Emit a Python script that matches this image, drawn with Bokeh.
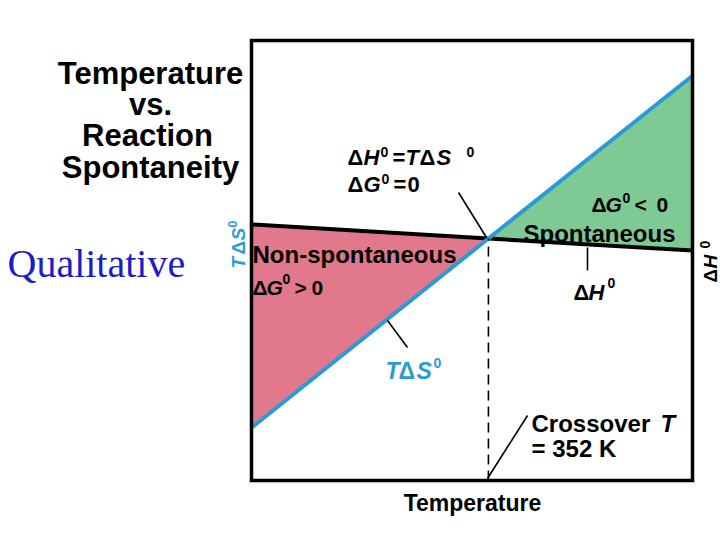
import math
from bokeh.plotting import figure
from bokeh.models import Range1d, Label
from bokeh.embed import file_html
from bokeh.resources import INLINE

# ---------------- data (schematic) ----------------
temperature = [150, 352, 526]      # K  (left edge, crossover, right edge)
delta_h = [58.2, 55.0, 52.3]       # ΔH0
t_delta_s = [12.0, 55.0, 92.0]     # TΔS0
crossover_T = 352
temp_range = [150, 526]
energy_range = [0, 100]

RED = "#E2788B"
GREEN = "#7FC995"
BLUE = "#2B9BD8"
FONT = "Liberation Sans"

# ---------------- layout helpers (page pixels -> data) ----------------
W, H = 720, 540
OX, OY = 0, 0
BL, BR, BT, BB = 251, 692, 40, 480
sx = (temp_range[1] - temp_range[0]) / (BR - BL)
sy = (energy_range[1] - energy_range[0]) / (BB - BT)


def X(px):
    return temp_range[0] + (px - BL) * sx


def Y(py):
    return energy_range[0] + (BB - py) * sy


p = figure(width=W, height=H, output_backend="svg", toolbar_location=None,
           x_range=Range1d(X(OX), X(OX + W)), y_range=Range1d(Y(OY + H), Y(OY)),
           x_axis_location=None, y_axis_location=None, min_border=0)
p.outline_line_color = None
p.grid.visible = False
p.background_fill_color = "white"
p.border_fill_color = "white"

# fills
p.varea(x=temperature[:2], y1=t_delta_s[:2], y2=delta_h[:2], fill_color=RED)
p.varea(x=temperature[1:], y1=delta_h[1:], y2=t_delta_s[1:], fill_color=GREEN)

# lines
p.line(temperature, delta_h, line_color="black", line_width=4)
p.line(temperature, t_delta_s, line_color=BLUE, line_width=4)
p.line([crossover_T, crossover_T], [energy_range[0], delta_h[1]],
       line_color="black", line_width=1.6, line_dash="10 6")

# frame box
p.quad(left=[temp_range[0]], right=[temp_range[1]], bottom=[energy_range[0]],
       top=[energy_range[1]], fill_color=None, line_color="black", line_width=3.5,
       line_join="miter")

# leader lines
for (x0, y0, x1, y1) in [(458, 192, 486, 237), (387, 320, 407, 347),
                         (587, 247, 587, 270), (487, 478, 527, 415)]:
    p.line([X(x0), X(x1)], [Y(y0), Y(y1)], line_color="black", line_width=1.6)


def lab(text, px, py, size, color="black", style="bold", font=FONT,
        align="left", angle=0.0):
    p.add_layout(Label(x=X(px), y=Y(py), text=text, text_font=font,
                       text_font_size=f"{size}px", text_font_style=style,
                       text_color=color, text_align=align,
                       text_baseline="alphabetic", angle=angle))


# title
for t, cx, by in [("Temperature", 150, 73), ("vs.", 150, 104),
                  ("Reaction", 147, 135), ("Spontaneity", 150, 167)]:
    lab(t, cx, by, 31, align="center")

lab("Qualitative", 7, 263, 40, color="#1C1CC8", style="normal",
    font="Liberation Serif")

# ΔH0 = TΔS0 / ΔG0 = 0
for t, x, st in [("Δ", 347, "bold"), ("H", 363, "bold italic"), ("=", 392, "bold"),
                 ("T", 405, "bold italic"), ("Δ", 419, "bold"), ("S", 436, "bold italic")]:
    lab(t, x, 157, 22, style=st)
lab("0", 380, 151, 14)
lab("0", 466, 151, 14)
for t, x, st in [("Δ", 347, "bold"), ("G", 363, "bold italic"), ("=", 393, "bold"),
                 ("0", 407, "bold")]:
    lab(t, x, 184, 22, style=st)
lab("0", 381, 178, 14)

# Non-spontaneous
lab("Non-spontaneous", 252, 254, 24)
for t, x, st in [("Δ", 252, "bold"), ("G", 266, "bold italic"), (">", 294, "bold"),
                 ("0", 311, "bold")]:
    lab(t, x, 287, 21, style=st)
lab("0", 282, 278, 14)

# Spontaneous
for t, x, st in [("Δ", 591, "bold"), ("G", 605, "bold italic"), ("<", 634, "bold"),
                 ("0", 656, "bold")]:
    lab(t, x, 204, 21, style=st)
lab("0", 622, 197, 14)
lab("Spontaneous", 523, 233, 24)

# ΔH0 label
lab("Δ", 573, 292, 22)
lab("H", 588, 292, 22, style="bold italic")
lab("0", 607, 282, 14)

# TΔS0 label (blue)
lab("T", 385, 370, 23, color=BLUE, style="bold italic")
lab("Δ", 398, 370, 23, color=BLUE)
lab("S", 416, 370, 23, color=BLUE, style="bold italic")
lab("0", 433, 362, 14, color=BLUE)

# Crossover
lab("Crossover", 531, 423, 24)
lab("T", 660, 423, 24, style="bold italic")
lab("= 352 K", 531, 448, 24)

# axis labels
lab("Temperature", 472, 502, 23, align="center")

A = math.pi / 2
lab("T", 238, 268, 19, color=BLUE, style="bold italic", angle=A)
lab("Δ", 238, 254, 19, color=BLUE, angle=A)
lab("S", 238, 240, 19, color=BLUE, style="bold italic", angle=A)
lab("0", 232, 227, 12, color=BLUE, angle=A)

lab("Δ", 710, 282, 19, angle=A)
lab("H", 710, 268, 19, style="bold italic", angle=A)
lab("0", 704, 248, 14, angle=A)

open("out.html", "w").write(file_html(p, INLINE))
